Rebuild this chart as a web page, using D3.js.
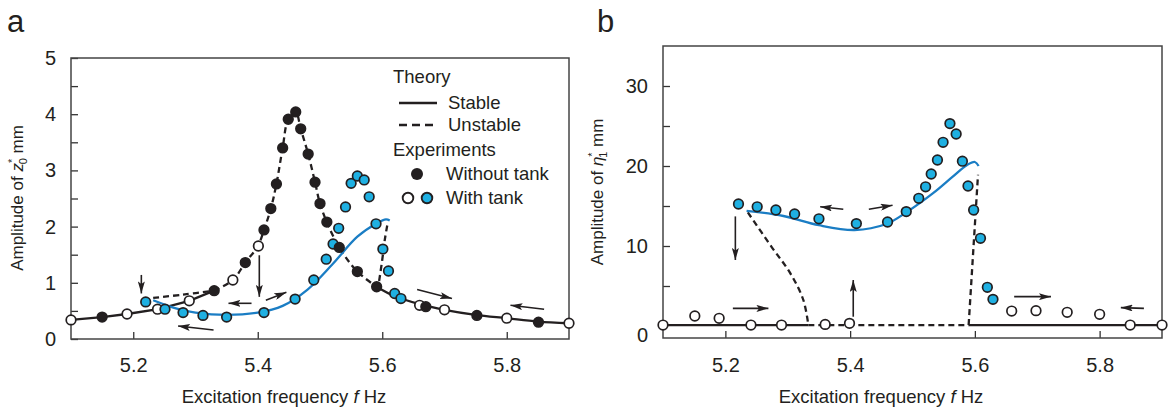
<!DOCTYPE html>
<head>
    <meta charset="utf-8">
    <title>Frequency response with and without tank</title>
    <style>
        body { margin: 0; background: #fff; }
        text { font-family: "Liberation Sans", Arial, Helvetica, sans-serif; fill: #231f20; }
    </style>
</head>
<body>

<svg width="1170" height="412"></svg>

<script src="https://d3js.org/d3.v7.min.js"></script>

<script>

    // ---- panel a : amplitude of z0* (mm) ----
    var aWithout = [[5.15,0.39],[5.33,0.86],[5.38,1.36],[5.41,1.94],[5.421,2.32],[5.43,2.76],[5.44,3.40],
        [5.449,3.91],[5.461,4.04],[5.469,3.74],[5.481,3.29],[5.492,2.79],[5.50,2.41],[5.511,2.08],
        [5.531,1.63],[5.56,1.20],[5.591,0.93],[5.67,0.575],[5.752,0.42],[5.851,0.30]];
    var aOpen = [[5.10,0.34],[5.19,0.445],[5.239,0.53],[5.29,0.68],[5.36,1.05],[5.401,1.655],
        [5.66,0.60],[5.70,0.52],[5.80,0.37],[5.90,0.28]];
    var aBlue = [[5.22,0.66],[5.251,0.53],[5.28,0.47],[5.312,0.42],[5.35,0.39],[5.41,0.47],[5.46,0.71],
        [5.49,1.05],[5.51,1.42],[5.521,1.69],[5.53,1.97],[5.541,2.35],[5.55,2.77],[5.56,2.90],
        [5.571,2.83],[5.579,2.53],[5.59,2.05],[5.601,1.60],[5.61,1.21],[5.62,0.81],[5.63,0.72]];

    // theory curves, panel a
    var aStableLeft = [[5.10,0.34],[5.15,0.39],[5.19,0.445],[5.24,0.53],[5.29,0.68],[5.33,0.86]];
    var aUnstableUpper = [[5.232,0.73],[5.28,0.79],[5.33,0.86]];
    var aUnstablePeak = [[5.33,0.86],[5.36,1.05],[5.38,1.36],[5.40,1.65],[5.41,1.94],[5.421,2.32],
        [5.43,2.76],[5.44,3.40],[5.449,3.91],[5.461,4.04],[5.469,3.74],[5.481,3.29],[5.492,2.79],
        [5.50,2.41],[5.511,2.08],[5.531,1.63],[5.56,1.20],[5.591,0.93]];
    var aStableRight = [[5.591,0.93],[5.62,0.76],[5.66,0.62],[5.70,0.52],[5.75,0.43],[5.80,0.37],
        [5.85,0.31],[5.90,0.28]];
    var aTank = [[5.232,0.69],[5.27,0.54],[5.30,0.47],[5.35,0.43],[5.40,0.47],[5.44,0.59],
        [5.48,0.88],[5.52,1.33],[5.56,1.82],[5.59,2.05],[5.606,2.13],[5.612,2.11]];
    var aTankDrop = [[5.608,2.02],[5.604,1.76],[5.60,1.41],[5.594,0.96]];

    // sweep arrows [f1, v1, f2, v2], head at the second point
    var aArrows = [[5.213,1.14,5.213,0.81],[5.4025,1.49,5.4025,0.75],[5.39,0.635,5.353,0.635],
        [5.413,0.69,5.446,0.83],[5.329,0.16,5.272,0.23],[5.656,0.88,5.712,0.72],[5.86,0.53,5.806,0.60]];

    // ---- panel b : amplitude of eta1* (mm) ----
    var bOpen = [[5.10,0.12],[5.151,1.25],[5.19,0.96],[5.241,0.12],[5.29,0.12],[5.36,0.2],[5.399,0.33],
        [5.659,1.87],[5.698,1.92],[5.748,1.71],[5.80,1.46],[5.849,0.12],[5.90,0.12]];
    var bBlue = [[5.221,15.25],[5.251,14.9],[5.281,14.5],[5.311,14.0],[5.35,13.4],[5.41,12.8],[5.46,13.0],
        [5.49,14.3],[5.51,15.96],[5.521,17.4],[5.53,19.0],[5.54,20.75],[5.549,22.96],[5.56,25.3],
        [5.57,24.0],[5.58,20.6],[5.589,17.5],[5.598,14.5],[5.609,10.96],[5.62,4.84],[5.629,3.33]];

    var bTank = [[5.234,14.4],[5.293,13.75],[5.35,12.6],[5.407,12.0],[5.458,12.75],[5.49,14.2],
        [5.533,16.6],[5.565,18.7],[5.587,20.1],[5.60,20.5],[5.606,20.0]];
    var bUnstableLeft = [[5.236,14.2],[5.274,9.9],[5.304,6.6],[5.325,3.25],[5.333,0.12]];
    var bStableLeft = [[5.10,0.12],[5.333,0.12]];
    var bUnstableBase = [[5.333,0.12],[5.59,0.12]];
    var bUnstableRight = [[5.59,0.12],[5.605,18.9]];
    var bStableRight = [[5.59,0.12],[5.90,0.12]];

    var bArrows = [[5.216,13.7,5.216,8.25],[5.405,1.16,5.405,5.75],[5.212,2.2,5.269,2.2],
        [5.389,14.6,5.352,14.9],[5.43,14.6,5.468,15.1],[5.663,3.67,5.722,3.67],[5.871,2.2,5.834,2.3]];

    var xTicks = [5.2, 5.4, 5.6, 5.8];

    var ink = "#231f20",
        cyan = "#1fb0e2",
        tankBlue = "#1a7dc4",
        font = '"Liberation Sans", Arial, Helvetica, sans-serif';

    var svg = d3.select("svg");

    svg.append("defs").append("marker")
        .attr("id", "head")
        .attr("viewBox", "0 0 12 7")
        .attr("refX", 12).attr("refY", 3.5)
        .attr("markerWidth", 12).attr("markerHeight", 7)
        .attr("markerUnits", "userSpaceOnUse")
        .attr("orient", "auto")
        .append("path")
            .attr("d", "M0,0L12,3.5L0,7L2.5,3.5Z")
            .attr("fill", ink);

    var xa = d3.scaleLinear().domain([5.1, 5.9]).range([71, 569]),
        ya = d3.scaleLinear().domain([0, 5]).range([339, 58]);
    var xb = d3.scaleLinear().domain([5.1, 5.9]).range([663, 1162]),
        yb = d3.scaleLinear().domain([-1.5, 35]).range([338, 46]);

    function isMult(d, m) { return Math.abs(d / m - Math.round(d / m)) < 1e-6; }

    function frame(x, y, yVals, yFmt, xPad) {
        var g = svg.append("g");
        g.append("g")
            .attr("transform", "translate(0," + y.range()[0] + ")")
            .call(d3.axisBottom(x).tickValues(xTicks).tickSizeInner(-7).tickSizeOuter(0)
                .tickPadding(xPad).tickFormat(d3.format(".1f")))
            .call(function(s) { s.select(".domain").remove(); });
        g.append("g")
            .attr("transform", "translate(" + x.range()[0] + ",0)")
            .call(d3.axisLeft(y).tickValues(yVals).tickSizeInner(-7).tickSizeOuter(0)
                .tickPadding(15).tickFormat(yFmt))
            .call(function(s) { s.select(".domain").remove(); });
        g.selectAll("g").attr("font-family", font).attr("font-size", 20).attr("color", ink);
        g.selectAll(".tick line").attr("stroke", "#333").attr("stroke-width", 1.3);
        g.append("rect")
            .attr("x", x.range()[0]).attr("y", y.range()[1])
            .attr("width", x.range()[1] - x.range()[0])
            .attr("height", y.range()[0] - y.range()[1])
            .attr("fill", "none").attr("stroke", "#444").attr("stroke-width", 1.5);
    }

    function curve(x, y, data, color, dashed, smooth) {
        var line = d3.line()
            .x(function(d) { return x(d[0]); })
            .y(function(d) { return y(d[1]); })
            .curve(smooth ? d3.curveCatmullRom.alpha(0.5) : d3.curveLinear);
        svg.append("path")
            .datum(data)
            .attr("d", line)
            .attr("fill", "none")
            .attr("stroke", color)
            .attr("stroke-width", 2.3)
            .attr("stroke-dasharray", dashed ? "6,4" : null);
    }

    function dots(x, y, data, fill) {
        svg.append("g").selectAll("circle")
            .data(data)
            .enter().append("circle")
                .attr("cx", function(d) { return x(d[0]); })
                .attr("cy", function(d) { return y(d[1]); })
                .attr("r", 4.8)
                .attr("fill", fill)
                .attr("stroke", ink)
                .attr("stroke-width", 1.7);
    }

    function arrows(x, y, data) {
        svg.append("g").selectAll("line")
            .data(data)
            .enter().append("line")
                .attr("x1", function(d) { return x(d[0]); })
                .attr("y1", function(d) { return y(d[1]); })
                .attr("x2", function(d) { return x(d[2]); })
                .attr("y2", function(d) { return y(d[3]); })
                .attr("stroke", ink)
                .attr("stroke-width", 1.6)
                .attr("marker-end", "url(#head)");
    }

    // ---------- panel a ----------
    frame(xa, ya, d3.range(0, 5.01, 0.5), function(d) { return isMult(d, 1) ? d3.format("d")(d) : ""; }, 19);

    curve(xa, ya, aStableLeft, ink, false, false);
    curve(xa, ya, aUnstableUpper, ink, true, true);
    curve(xa, ya, aUnstablePeak, ink, true, true);
    curve(xa, ya, aStableRight, ink, false, true);
    curve(xa, ya, aTankDrop, ink, true, true);
    curve(xa, ya, aTank, tankBlue, false, true);
    arrows(xa, ya, aArrows);
    dots(xa, ya, aOpen, "#fff");
    dots(xa, ya, aBlue, cyan);
    dots(xa, ya, aWithout, ink);

    // legend
    var lg = svg.append("g").attr("font-size", 18.5);
    lg.append("text").attr("x", 393).attr("y", 77).attr("dy", "0.35em").text("Theory");
    lg.append("line").attr("x1", 399).attr("x2", 437).attr("y1", 103).attr("y2", 103)
        .attr("stroke", ink).attr("stroke-width", 2.6);
    lg.append("text").attr("x", 448).attr("y", 103).attr("dy", "0.35em").text("Stable");
    lg.append("line").attr("x1", 399).attr("x2", 437).attr("y1", 125).attr("y2", 125)
        .attr("stroke", ink).attr("stroke-width", 2.6).attr("stroke-dasharray", "8,5");
    lg.append("text").attr("x", 448).attr("y", 125).attr("dy", "0.35em").text("Unstable");
    lg.append("text").attr("x", 393).attr("y", 150).attr("dy", "0.35em").text("Experiments");
    lg.append("circle").attr("cx", 417).attr("cy", 174).attr("r", 6).attr("fill", ink);
    lg.append("text").attr("x", 446).attr("y", 174).attr("dy", "0.35em").text("Without tank");
    lg.append("circle").attr("cx", 408).attr("cy", 198).attr("r", 5.3).attr("fill", "#fff")
        .attr("stroke", ink).attr("stroke-width", 1.9);
    lg.append("circle").attr("cx", 427).attr("cy", 198).attr("r", 5.3).attr("fill", cyan)
        .attr("stroke", ink).attr("stroke-width", 1.9);
    lg.append("text").attr("x", 446).attr("y", 198).attr("dy", "0.35em").text("With tank");

    // ---------- panel b ----------
    frame(xb, yb, d3.range(5, 30.01, 5), function(d) { return isMult(d, 10) ? d3.format("d")(d) : ""; }, 20);
    svg.append("text")
        .attr("x", 648).attr("y", yb(-1.5) - 3).attr("dy", "0.35em")
        .attr("text-anchor", "end").attr("font-size", 20).text("0");

    curve(xb, yb, bStableLeft, ink, false, false);
    curve(xb, yb, bUnstableBase, ink, true, false);
    curve(xb, yb, bStableRight, ink, false, false);
    curve(xb, yb, bUnstableLeft, ink, true, true);
    curve(xb, yb, bUnstableRight, ink, true, false);
    curve(xb, yb, bTank, tankBlue, false, true);
    arrows(xb, yb, bArrows);
    dots(xb, yb, bOpen, "#fff");
    dots(xb, yb, bBlue, cyan);

    // ---------- titles ----------
    svg.append("text").attr("x", 7).attr("y", 32).attr("font-size", 31).text("a");
    svg.append("text").attr("x", 597).attr("y", 32).attr("font-size", 31).text("b");

    svg.append("text").attr("x", 284).attr("y", 403).attr("text-anchor", "middle").attr("font-size", 18.5)
        .html('Excitation frequency <tspan font-style="italic">f</tspan> Hz');
    svg.append("text").attr("x", 881).attr("y", 403).attr("text-anchor", "middle").attr("font-size", 18.5)
        .html('Excitation frequency <tspan font-style="italic">f</tspan> Hz');

    function yTitle(x, y, sym, sub) {
        var t = svg.append("text")
            .attr("transform", "translate(" + x + "," + y + ") rotate(-90)")
            .attr("text-anchor", "middle")
            .attr("font-size", 17);
        t.append("tspan").text("Amplitude of ");
        t.append("tspan").attr("font-style", "italic").text(sym);
        t.append("tspan").attr("font-size", 11).attr("dy", -7).text("*");
        t.append("tspan").attr("font-size", 11).attr("dx", -5.5).attr("dy", 11).text(sub);
        t.append("tspan").attr("dy", -4).text(" mm");
    }
    yTitle(23, 198, "z", "0");
    yTitle(603, 192, "\u03b7", "1");

</script>
</body>
